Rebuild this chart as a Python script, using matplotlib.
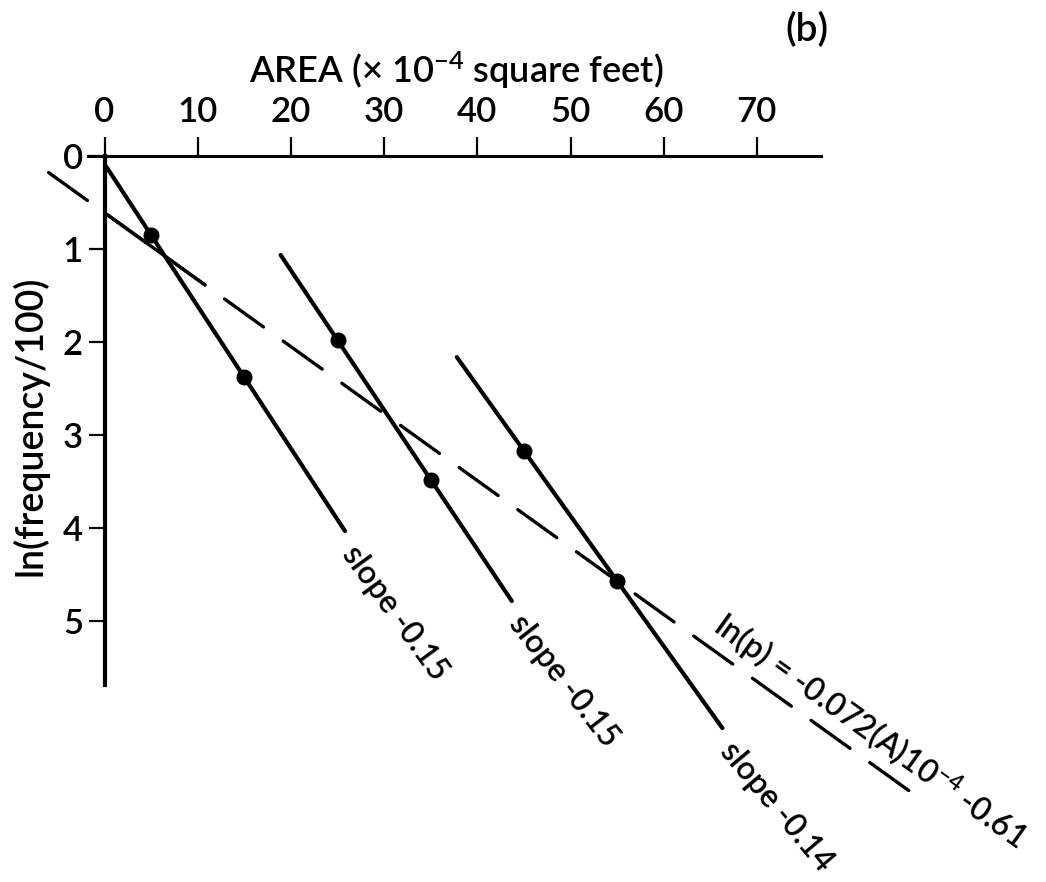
import numpy as np
import matplotlib
matplotlib.use("Agg")
import matplotlib.pyplot as plt

plt.rcParams['font.family'] = ['Lato', 'DejaVu Sans']
plt.rcParams['font.weight'] = 'semibold'
plt.rcParams['mathtext.fontset'] = 'custom'
plt.rcParams['mathtext.rm'] = 'Lato:semibold'
plt.rcParams['mathtext.default'] = 'regular'
plt.rcParams['lines.scale_dashes'] = False

# ---- data ----
x_ticks = [0, 10, 20, 30, 40, 50, 60, 70]
y_ticks = [0, 1, 2, 3, 4, 5]
area_points = [5, 15, 25, 35, 45, 55]
lnfreq_points = [0.85, 2.38, 1.98, 3.48, 3.17, 4.57]
# each solid segment: indices of its two points and its x extent
segment_pairs = [(0, 1), (2, 3), (4, 5)]
segment_x_extent = [(0.2, 25.8), (18.9, 43.7), (37.8, 66.3)]
segment_labels = ["slope -0.15", "slope -0.15", "slope -0.14"]
segment_label_angle = [-54, -52, -50]
fit_slope = 0.072
fit_intercept = 0.61
fit_x_extent = (-6.0, 86.6)
fit_label = "ln(p) = -0.072(A)10$^{-4}$ -0.61"
x_label = "AREA (\u00d7 10$^{-4}$ square feet)"
y_label = "ln(frequency/100)"
panel = "(b)"

# ---- figure ----
W, H = 1046, 882
X0, SX = 104.5, 9.32
Y0, SY = 156.0, 93.0
fig = plt.figure(figsize=(W / 100, H / 100), dpi=100)
ax = fig.add_axes([0, 0, 1, 1])
ax.set_xlim(-X0 / SX, (W - X0) / SX)
ax.set_ylim((H - Y0) / SY, -Y0 / SY)

for s in ['bottom', 'right']:
    ax.spines[s].set_visible(False)
ax.spines['left'].set_position(('data', 0))
ax.spines['left'].set_bounds(0, 5.69)
ax.spines['left'].set_linewidth(3.0)
ax.spines['top'].set_position(('data', 0))
ax.spines['top'].set_bounds(-1.8, 76.9)
ax.spines['top'].set_linewidth(2.2)
ax.xaxis.set_ticks_position('top')
ax.yaxis.set_ticks_position('left')
ax.set_xticks(x_ticks)
ax.set_yticks(y_ticks)
ax.tick_params(axis='x', direction='out', length=14, width=1.6, pad=6,
               labelsize=25)
ax.tick_params(axis='y', direction='out', length=11.5, width=1.6, pad=4,
               labelsize=25)
ax.patch.set_visible(False)

# fitted dashed line
fx = np.array(fit_x_extent)
fy = fit_intercept + fit_slope * fx
ax.plot(fx, fy, color='black', lw=2.4, ls=(0, (34.5, 17.5)),
        clip_on=False, solid_capstyle='round', dash_capstyle='round')
# solid part near origin (dash merges through first point)
sx = np.array([0.3, 10.8])
ax.plot(sx, fit_intercept + fit_slope * sx, color='black', lw=2.4,
        solid_capstyle='round')

# solid segments
ax_pts = np.array(area_points)
ay_pts = np.array(lnfreq_points)
for (i, j), (xa, xb), lab, ang in zip(segment_pairs, segment_x_extent,
                                      segment_labels, segment_label_angle):
    m, c = np.polyfit(ax_pts[[i, j]], ay_pts[[i, j]], 1)
    xs = np.array([xa, xb])
    ax.plot(xs, m * xs + c, color='black', lw=3.0, solid_capstyle='round')
    ax.annotate(lab, xy=(xb, m * xb + c), xytext=(2, -13),
                textcoords='offset points', rotation=ang,
                rotation_mode='anchor', ha='left', va='center', fontsize=23)

ax.plot(area_points, lnfreq_points, 'o', color='black', ms=10.5)

# equation text along dashed line
angle = -np.degrees(np.arctan(fit_slope * SY / SX))
xe = 64.2
ax.annotate(fit_label, xy=(xe, fit_intercept + fit_slope * xe),
            xytext=(6, 8), textcoords='offset points', rotation=angle,
            rotation_mode='anchor', ha='left', va='baseline', fontsize=23)

ax.text(37.7, -0.785, x_label, ha='center', va='baseline', fontsize=26)
ax.text(-8.0, 2.9, y_label, ha='center', va='center', rotation=90,
        fontsize=27)
ax.text(75.4, -1.355, panel, ha='center', va='center', fontsize=28)

fig.savefig("out.png", dpi=100)
